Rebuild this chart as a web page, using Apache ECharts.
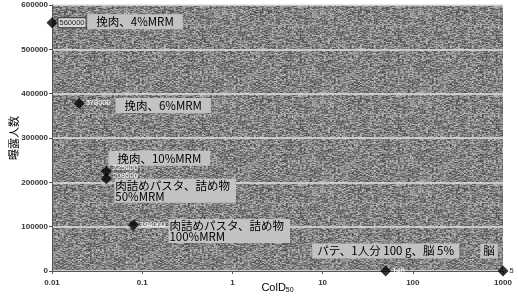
<!DOCTYPE html>
<html><head><meta charset="utf-8">
<script src="https://cdn.jsdelivr.net/npm/echarts@6/dist/echarts.min.js"></script>
<style>html,body{margin:0;padding:0;background:#fff}#c{width:518px;height:302px}</style>
</head><body><div id="c"></div>
<script>
// Data
var colD50 = [0.01, 0.02, 0.04, 0.04, 0.08, 50, 1000];
var exposed = [560000, 378000, 225000, 208000, 104000, 140, 5];
var scenarioNames = [
  '挽肉、4%MRM',
  '挽肉、6%MRM',
  '挽肉、10%MRM',
  '肉詰めパスタ、詰め物\n50%MRM',
  '肉詰めパスタ、詰め物\n100%MRM',
  'パテ、1人分 100 g、脳 5%',
  '脳'
];
var yTicks = [0, 100000, 200000, 300000, 400000, 500000, 600000];
var xTicks = [0.01, 0.1, 1, 10, 100, 1000];

// styling (positions of annotation boxes relative to points)
var boxOffsets = [[83,-1],[84,2],[53,-13],[8,12],[35,6],[0,-20],[-14,-20]];
var boxAlign = ['center','center','center','left','left','center','center'];
var boxPad = [[2,9,2,9],[2,9,2,9],[2,9,2,9],[1,6,1,1],[1,6,1,1],[2,5,2,5],[2,3,2,3]];
var valOffsets = [[0,0],[0,0],[0,-3],[0,-3],[0,0],[0,0],[0,0]];
var valColors = ['#222','#ffffff','#ffffff','#ffffff','#ffffff','#ffffff','#222'];

// plot background texture (speckled grey like the scanned original)
function makeTexture() {
  var cv = document.createElement('canvas');
  cv.width = 98; cv.height = 89;
  var ctx = cv.getContext('2d');
  var img = ctx.createImageData(cv.width, cv.height);
  var s = 12345;
  function rnd() { s = (s * 1103515245 + 12345) % 2147483648; return s / 2147483648; }
  for (var y = 0; y < cv.height; y++) {
    for (var x = 0; x < cv.width; x += 2) {
      var v = Math.round(132 + (rnd() - 0.5) * 120);
      for (var k = 0; k < 2; k++) {
        var i = (y * cv.width + x + k) * 4;
        var w = k === 1 ? Math.round((v + 132) / 2 + (rnd() - 0.5) * 40) : v;
        img.data[i] = w; img.data[i+1] = w; img.data[i+2] = w; img.data[i+3] = 255;
      }
    }
  }
  ctx.putImageData(img, 0, 0);
  return cv;
}

var font = '"Noto Sans CJK JP", sans-serif';
var pts = colD50.map(function(x,i){ return [x, exposed[i]]; });

var annData = pts.map(function(p,i){
  return {
    value: p,
    label: {
      show: true,
      opacity: 1,
      position: 'inside',
      offset: boxOffsets[i],
      formatter: scenarioNames[i],
      align: boxAlign[i],
      verticalAlign: 'middle',
      backgroundColor: '#c2c2c2',
      color: '#000',
      fontFamily: font,
      fontSize: 11.5,
      lineHeight: 11,
      padding: boxPad[i]
    }
  };
});
var valData = pts.map(function(p,i){
  return {
    value: p,
    label: {
      show: true,
      opacity: 1,
      position: 'right',
      distance: 1,
      offset: valOffsets[i],
      formatter: String(exposed[i]),
      color: valColors[i],
      backgroundColor: i === 0 ? '#d8d8d8' : 'transparent',
      borderColor: i === 0 ? '#333' : 'transparent',
      borderWidth: i === 0 ? 1 : 0,
      padding: i === 0 ? [1,1,0,1] : 0,
      fontSize: 7.5,
      fontFamily: 'Liberation Sans, Arial, sans-serif'
    }
  };
});

var chart = echarts.init(document.getElementById('c'), null, {renderer:'canvas'});
chart.setOption({
  animation: false,
  grid: { left: 52, right: 15, top: 5, bottom: 31, show: true,
    backgroundColor: { image: makeTexture(), repeat: 'repeat' }, borderWidth: 0,
    containLabel: false, outerBoundsMode: 'none' },
  xAxis: {
    type: 'log', logBase: 10, min: 0.01, max: 1000,
    name: 'ColD{s|50}', nameLocation: 'middle', nameGap: 10, nameMoveOverlap: false,
    nameTextStyle: { fontFamily: 'Liberation Sans, Arial, sans-serif', fontSize: 11, color: '#000',
      rich: { s: { fontSize: 7, verticalAlign: 'bottom', padding: [6,0,0,0], fontFamily: 'Liberation Sans, Arial, sans-serif' } } },
    axisLine: { lineStyle: { color: '#555' } },
    axisTick: { show: true, length: 3, lineStyle: { color: '#555' } },
    minorTick: { show: false },
    splitLine: { show: false },
    axisLabel: { fontSize: 8, fontWeight: 'bold', color: '#333', fontFamily: 'Liberation Sans, Arial, sans-serif', margin: 8,
      formatter: function(v){ return xTicks.indexOf(v) >= 0 ? String(v) : ''; } }
  },
  yAxis: {
    type: 'value', min: 0, max: 600000, interval: 100000,
    name: '曝露人数', nameLocation: 'middle', nameGap: 33, nameRotate: 90, nameMoveOverlap: false,
    nameTextStyle: { fontFamily: font, fontSize: 11, color: '#000' },
    axisLine: { show: true, lineStyle: { color: '#555' } },
    axisTick: { show: true, length: 3, lineStyle: { color: '#555' } },
    splitLine: { show: true, lineStyle: { color: '#e2e2e2', width: 1.5 } },
    axisLabel: { fontSize: 8, fontWeight: 'bold', color: '#333', fontFamily: 'Liberation Sans, Arial, sans-serif', margin: 4,
      formatter: function(v){ return yTicks.indexOf(v) >= 0 ? String(v) : ''; } }
  },
  series: [
    { type: 'scatter', symbol: 'circle', symbolSize: 2, itemStyle: { color: 'rgba(0,0,0,0)' }, data: annData, z: 3, silent: true },
    { type: 'scatter', symbol: 'diamond', symbolSize: 11, itemStyle: { color: '#000' }, data: valData, z: 4 }
  ]
});
</script></body></html>
